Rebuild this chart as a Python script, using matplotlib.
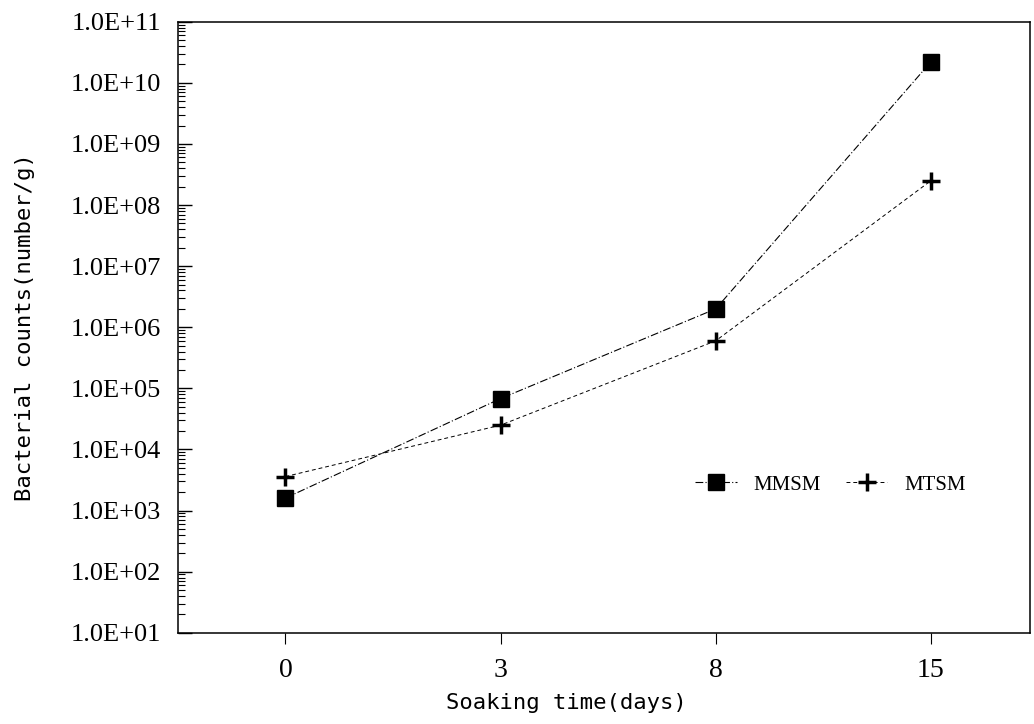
import numpy as np
import matplotlib
matplotlib.use("Agg")
import matplotlib.pyplot as plt
from matplotlib.ticker import LogLocator, FixedLocator, NullFormatter

# soaking time categories and bacterial counts (number/g)
days = ["0", "3", "8", "15"]
mmsm = [1.6e3, 6.8e4, 2.0e6, 2.2e10]
mtsm = [3.6e3, 2.5e4, 6.0e5, 2.5e8]
ytick_labels = ["1.0E+%02d" % e for e in range(1, 12)]

fig = plt.figure(figsize=(10.34, 7.24), dpi=100)
ax = fig.add_axes([0.172, 0.126, 0.824, 0.844])

x = np.arange(len(days))
ax.plot(x, mmsm, color="black", lw=0.8, ls=(0, (7, 2, 1, 2)),
        marker="s", ms=11, mfc="black", mec="black", label="MMSM")
ax.plot(x, mtsm, color="black", lw=0.7, ls=(0, (4, 3)),
        marker="+", ms=13, mew=2.5, mec="black", label="MTSM")

ax.set_yscale("log")
ax.set_ylim(1e1, 1e11)
ax.set_xlim(-0.5, 3.46)

serif = "Liberation Serif"
ax.yaxis.set_major_locator(FixedLocator([10.0 ** e for e in range(1, 12)]))
ax.set_yticklabels(ytick_labels, fontfamily=serif, fontsize=19)
ax.yaxis.set_minor_locator(LogLocator(base=10, subs=np.arange(2, 10), numticks=50))
ax.yaxis.set_minor_formatter(NullFormatter())
ax.tick_params(axis="y", which="major", direction="in", length=10, width=1, pad=12)
ax.tick_params(axis="y", which="minor", direction="in", length=5, width=0.8)

ax.set_xticks(x)
ax.set_xticklabels(days, fontfamily=serif, fontsize=20)
ax.tick_params(axis="x", direction="out", length=8, width=0.8, pad=10)

for s in ax.spines.values():
    s.set_linewidth(1.1)

ax.set_xlabel("Soaking time(days)", fontfamily="DejaVu Sans Mono", fontsize=16)
ax.xaxis.set_label_coords(0.456, -0.098)
ax.set_ylabel("Bacterial counts(number/g)", fontfamily="DejaVu Sans Mono", fontsize=16)
ax.yaxis.set_label_coords(-0.168, 0.5)

leg = ax.legend(loc="center left", bbox_to_anchor=(0.585, 0.242), ncol=2, frameon=False,
                prop={"family": serif, "size": 15}, handlelength=2.0,
                columnspacing=1.2, handletextpad=0.8)

fig.savefig("out.png", dpi=100)
